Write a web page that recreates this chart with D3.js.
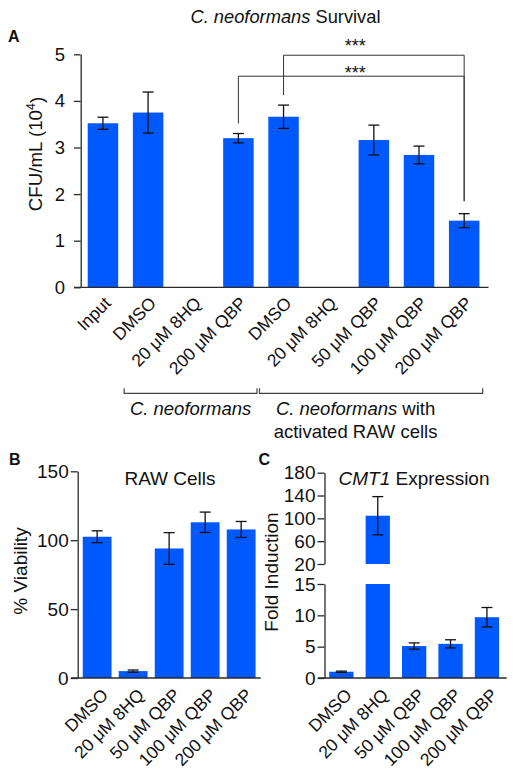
<!DOCTYPE html>
<html>
<head>
<meta charset="utf-8">
<script src="https://cdn.jsdelivr.net/npm/d3@7"></script>
<style>
  html, body { margin: 0; padding: 0; background: #fff; }
  svg text { font-family: "Liberation Sans", Arial, Helvetica, sans-serif; fill: #111; }
</style>
</head>
<body>
<svg id="chart" width="516" height="781"></svg>
<script>
// ---------- DATA ----------
const catsA = ["Input", "DMSO", "20 μM 8HQ", "200 μM QBP", "DMSO", "20 μM 8HQ", "50 μM QBP", "100 μM QBP", "200 μM QBP"];
const valsA = [3.52, 3.75, null, 3.2, 3.66, null, 3.16, 2.84, 1.43];
const errA  = [0.13, 0.44, null, 0.10, 0.25, null, 0.32, 0.19, 0.15];
const ticksA = [0, 1, 2, 3, 4, 5];
const sigA = [ {from: 4, to: 8, label: "***", level: 4.98, labelLevel: 5.27},
               {from: 3, to: 8, label: "***", level: 4.53, labelLevel: 4.68} ];
const groupsA = [ {from: 1, to: 3, lines: [["C. neoformans", true]]},
                  {from: 4, to: 8, lines: [["C. neoformans", true, " with"], ["activated RAW cells", false]]} ];

const catsBC = ["DMSO", "20 μM 8HQ", "50 μM QBP", "100 μM QBP", "200 μM QBP"];
const valsB = [102.5, 5.0, 94.0, 113.0, 107.8];
const errB  = [4.3, 0.8, 11.5, 7.4, 5.8];
const ticksB = [0, 50, 100, 150];

const valsC = [1.0, 104.6, 5.1, 5.45, 9.7];
const errC  = [0.1, 33.5, 0.5, 0.65, 1.55];
const ticksCLow = [0, 5, 10, 15];
const ticksCHigh = [20, 60, 100, 140, 180];

// ---------- STYLE ----------
const BLUE = "#0058ff";
const AXC = "#2a2a2a";
const svg = d3.select("#chart");

function styleAxis(g, fs) {
  g.select(".domain").attr("stroke", AXC).attr("stroke-width", 1.3);
  g.selectAll(".tick line").attr("stroke", AXC).attr("stroke-width", 1.3);
  g.selectAll(".tick text").attr("font-size", fs).attr("fill", "#111")
    .attr("font-family", '"Liberation Sans", Arial, sans-serif');
}
function errBar(g, cx, yTop, yBot, cap) {
  g.append("line").attr("x1", cx).attr("x2", cx).attr("y1", yTop).attr("y2", yBot);
  g.append("line").attr("x1", cx - cap).attr("x2", cx + cap).attr("y1", yTop).attr("y2", yTop);
  g.append("line").attr("x1", cx - cap).attr("x2", cx + cap).attr("y1", yBot).attr("y2", yBot);
}
function xLabels(g, x, cats, y0, fs, dx, dy) {
  cats.forEach((c, i) => {
    const cx = x(i) + x.bandwidth() / 2;
    g.append("text")
      .attr("transform", `translate(${cx + dx},${y0 + dy}) rotate(-45)`)
      .attr("text-anchor", "end").attr("font-size", fs).text(c);
  });
}

// ================= PANEL A =================
const A = svg.append("g");
const yA = d3.scaleLinear().domain([0, 5]).range([287.3, 54.3]);
const xA = d3.scaleBand().domain(d3.range(catsA.length)).range([80.7, 486.4]).paddingInner(0.325).paddingOuter(0.155);

A.append("text").attr("x", 285.5).attr("y", 23).attr("text-anchor", "middle").attr("font-size", 18.3)
  .call(t => { t.append("tspan").attr("font-style", "italic").text("C. neoformans"); t.append("tspan").text(" Survival"); });
A.append("text").attr("x", 8).attr("y", 42).attr("font-size", 16).attr("font-weight", "bold").text("A");

// bars
A.selectAll("rect.bar").data(valsA.map((v, i) => ({v, i})).filter(d => d.v != null)).join("rect")
  .attr("x", d => xA(d.i)).attr("width", xA.bandwidth())
  .attr("y", d => yA(d.v)).attr("height", d => yA(0) - yA(d.v)).attr("fill", BLUE);

const eA = A.append("g").attr("stroke", "#111").attr("stroke-width", 1.3);
valsA.forEach((v, i) => { if (v == null) return;
  errBar(eA, xA(i) + xA.bandwidth() / 2, yA(v + errA[i]), yA(v - errA[i]), 5.5); });

// axes
const axA = A.append("g").attr("transform", "translate(80.7,0)")
  .call(d3.axisLeft(yA).tickValues(ticksA).tickFormat(d3.format("d")).tickSize(6.7).tickSizeOuter(0).tickPadding(9));
styleAxis(axA, 18.5);
A.append("line").attr("x1", 74).attr("x2", 488.5).attr("y1", yA(0)).attr("y2", yA(0)).attr("stroke", AXC).attr("stroke-width", 1.3);
xLabels(A, xA, catsA, yA(0), 17.5, 9, 17);

// y label
A.append("text").attr("transform", `translate(41.5,154) rotate(-90)`).attr("text-anchor", "middle").attr("font-size", 18.7)
  .call(t => { t.append("tspan").text("CFU/mL (10"); t.append("tspan").attr("dy", "-0.55em").attr("font-size", 12.5).text("4");
               t.append("tspan").attr("dy", "0.45em").text(")"); });

// significance brackets
const sg = A.append("g");
sigA.forEach(s => {
  const x1 = xA(s.from) + xA.bandwidth() / 2, x2 = xA(s.to) + xA.bandwidth() / 2;
  const yl = yA(s.level);
  const y1 = yA(valsA[s.from] + errA[s.from]) - 10, y2 = yA(valsA[s.to] + errA[s.to]) - 12.5;
  sg.append("path").attr("d", `M${x1},${y1}V${yl}H${x2}V${y2}`).attr("fill", "none").attr("stroke", "#333").attr("stroke-width", 1);
  sg.append("text").attr("x", (xA(3) + xA(8)) / 2 + xA.bandwidth() / 2 + 4).attr("y", yA(s.labelLevel) + 10).attr("text-anchor", "middle")
    .attr("font-size", 18).text(s.label);
});

// group brackets
const gb = A.append("g");
const stepA = xA.step();
groupsA.forEach((g, k) => {
  const left = k === 0 ? xA(g.from) + xA.bandwidth() / 2 - 0.53 * stepA : (xA(g.from - 1) + xA(g.from)) / 2 + xA.bandwidth() / 2 - 1.5;
  const right = k === 0 ? (xA(g.to) + xA(g.to + 1)) / 2 + xA.bandwidth() / 2 - 4 : xA(g.to) + xA.bandwidth() / 2 + 0.41 * stepA;
  gb.append("path").attr("d", `M${left},388.3V393.3H${right}V388.3`).attr("fill", "none").attr("stroke", "#444").attr("stroke-width", 1.2);
  const cx = (left + right) / 2;
  g.lines.forEach((ln, j) => {
    const t = gb.append("text").attr("x", cx - (k === 1 ? 15.5 : 0)).attr("y", 415 + j * 22.5).attr("text-anchor", "middle").attr("font-size", 18.5);
    t.append("tspan").attr("font-style", ln[1] ? "italic" : "normal").text(ln[0]);
    if (ln[2]) t.append("tspan").text(ln[2]);
  });
});

// ================= PANEL B =================
const B = svg.append("g");
const yB = d3.scaleLinear().domain([0, 150]).range([678, 471.3]);
const xB = d3.scaleBand().domain(d3.range(catsBC.length)).range([77.7, 260.6]).paddingInner(0.2).paddingOuter(0.14);
B.append("text").attr("x", 9).attr("y", 465).attr("font-size", 16).attr("font-weight", "bold").text("B");
B.append("text").attr("x", 170).attr("y", 485).attr("text-anchor", "middle").attr("font-size", 19).text("RAW Cells");
B.selectAll("rect").data(valsB).join("rect")
  .attr("x", (d, i) => xB(i)).attr("width", xB.bandwidth())
  .attr("y", d => yB(d)).attr("height", d => yB(0) - yB(d)).attr("fill", BLUE);
const eB = B.append("g").attr("stroke", "#111").attr("stroke-width", 1.3);
valsB.forEach((v, i) => errBar(eB, xB(i) + xB.bandwidth() / 2, yB(v + errB[i]), yB(v - errB[i]), 5.5));
const axB = B.append("g").attr("transform", "translate(77.7,0)")
  .call(d3.axisLeft(yB).tickValues(ticksB).tickFormat(d3.format("d")).tickSize(7).tickSizeOuter(0).tickPadding(2));
styleAxis(axB, 19);
B.append("line").attr("x1", 71).attr("x2", 260.7).attr("y1", yB(0)).attr("y2", yB(0)).attr("stroke", AXC).attr("stroke-width", 1.3);
xLabels(B, xB, catsBC, yB(0), 17.5, 12, 18);
B.append("text").attr("transform", `translate(26.5,571) rotate(-90)`).attr("text-anchor", "middle").attr("font-size", 19).text("% Viability");

// ================= PANEL C =================
const C = svg.append("g");
const yCL = d3.scaleLinear().domain([0, 15]).range([678, 584]);
const yCH = d3.scaleLinear().domain([20, 180]).range([564, 472.7]);
const xC = d3.scaleBand().domain(d3.range(catsBC.length)).range([324.5, 503.8]).paddingInner(0.333).paddingOuter(0.13);
C.append("text").attr("x", 258.5).attr("y", 465).attr("font-size", 16).attr("font-weight", "bold").text("C");
C.append("text").attr("x", 414).attr("y", 485).attr("text-anchor", "middle").attr("font-size", 19)
  .call(t => { t.append("tspan").attr("font-style", "italic").text("CMT1"); t.append("tspan").text(" Expression"); });
valsC.forEach((v, i) => {
  const x0 = xC(i), w = xC.bandwidth();
  const lowTop = Math.min(v, 15);
  C.append("rect").attr("x", x0).attr("width", w).attr("y", yCL(lowTop)).attr("height", yCL(0) - yCL(lowTop)).attr("fill", BLUE);
  if (v > 20) C.append("rect").attr("x", x0).attr("width", w).attr("y", yCH(v)).attr("height", yCH(20) - yCH(v)).attr("fill", BLUE);
});
const eC = C.append("g").attr("stroke", "#111").attr("stroke-width", 1.3);
valsC.forEach((v, i) => {
  const s = v > 20 ? yCH : yCL;
  errBar(eC, xC(i) + xC.bandwidth() / 2, s(v + errC[i]), s(v - errC[i]), 5.5);
});
const axCL = C.append("g").attr("transform", "translate(324.5,0)")
  .call(d3.axisLeft(yCL).tickValues(ticksCLow).tickFormat(d3.format("d")).tickSize(7).tickSizeOuter(0).tickPadding(2));
styleAxis(axCL, 19);
const axCH = C.append("g").attr("transform", "translate(324.5,0)")
  .call(d3.axisLeft(yCH).tickValues(ticksCHigh).tickFormat(d3.format("d")).tickSize(7).tickSizeOuter(0).tickPadding(2));
styleAxis(axCH, 19);
C.append("line").attr("x1", 318).attr("x2", 506.7).attr("y1", yCL(0)).attr("y2", yCL(0)).attr("stroke", AXC).attr("stroke-width", 1.3);
xLabels(C, xC, catsBC, yCL(0), 17.5, 11.5, 18);
C.append("text").attr("transform", `translate(277.5,572) rotate(-90)`).attr("text-anchor", "middle").attr("font-size", 19).text("Fold Induction");
</script>
</body>
</html>
